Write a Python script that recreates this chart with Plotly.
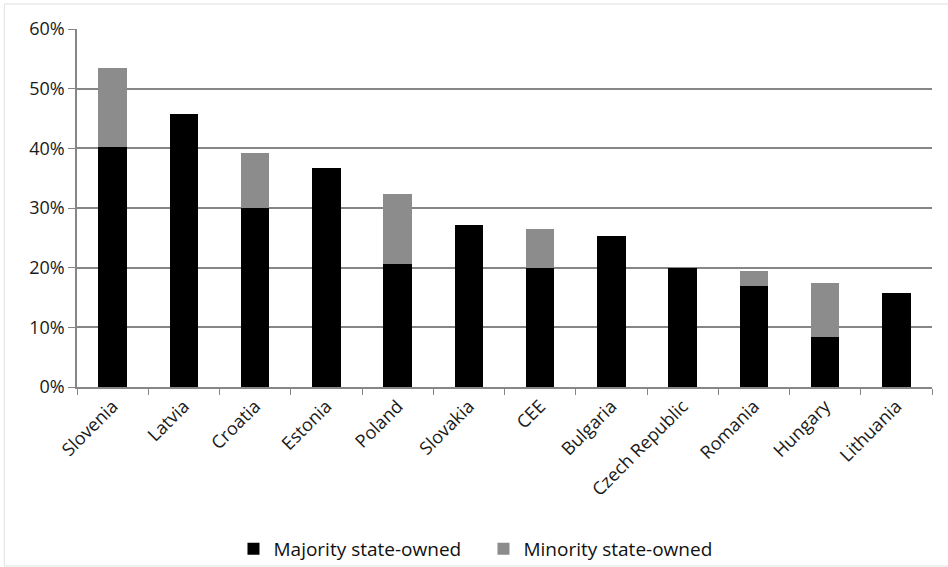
import plotly.graph_objects as go

categories = ["Slovenia", "Latvia", "Croatia", "Estonia", "Poland", "Slovakia", "CEE",
              "Bulgaria", "Czech Republic", "Romania", "Hungary", "Lithuania"]
majority = [40.3, 45.7, 30.0, 36.7, 20.6, 27.1, 19.9, 25.3, 19.9, 16.9, 8.4, 15.7]
total = [53.5, 45.7, 39.2, 36.7, 32.3, 27.1, 26.4, 25.3, 19.9, 19.4, 17.4, 15.7]
minority = [round(t - m, 1) for t, m in zip(total, majority)]

FONT = "Open Sans, sans-serif"

fig = go.Figure()
fig.add_trace(go.Bar(x=categories, y=[v / 100 for v in majority], name="Majority state-owned",
                     marker=dict(color="#000000", line=dict(width=0))))
fig.add_trace(go.Bar(x=categories, y=[v / 100 for v in minority], name="Minority state-owned",
                     marker=dict(color="#8c8c8c", line=dict(width=0))))

fig.update_layout(
    barmode="stack",
    bargap=0.6,
    width=948, height=567,
    margin=dict(l=77, r=16, t=29, b=180),
    paper_bgcolor="white", plot_bgcolor="white",
    font=dict(family=FONT, size=16, color="#1a1a1a"),
    showlegend=True,
    legend=dict(orientation="h", traceorder="normal", x=0.51, xanchor="center",
                xref="container", y=0.032, yanchor="middle", yref="container",
                bgcolor="rgba(0,0,0,0)", entrywidth=205, entrywidthmode="pixels",
                font=dict(size=19, color="#111111")),
    yaxis=dict(range=[0, 0.6], dtick=0.1, tickformat=".0%", showgrid=True,
               gridcolor="#868686", gridwidth=1.5, showline=True, linecolor="#868686",
               linewidth=1.5, ticks="outside", ticklen=7, tickcolor="#868686",
               tickfont=dict(size=18), zeroline=False, automargin=False),
    xaxis=dict(showline=True, linecolor="#868686", linewidth=1.5, ticks="outside",
               tickson="boundaries", ticklen=6, tickcolor="#868686", tickangle=-45,
               tickfont=dict(size=18), automargin=False),
)
fig.add_shape(type="rect", xref="paper", yref="paper", x0=-0.085, x1=1.02, y0=-0.5, y1=1.07,
              line=dict(color="#e0e0e0", width=1), layer="below")

fig.write_html("out.html")
